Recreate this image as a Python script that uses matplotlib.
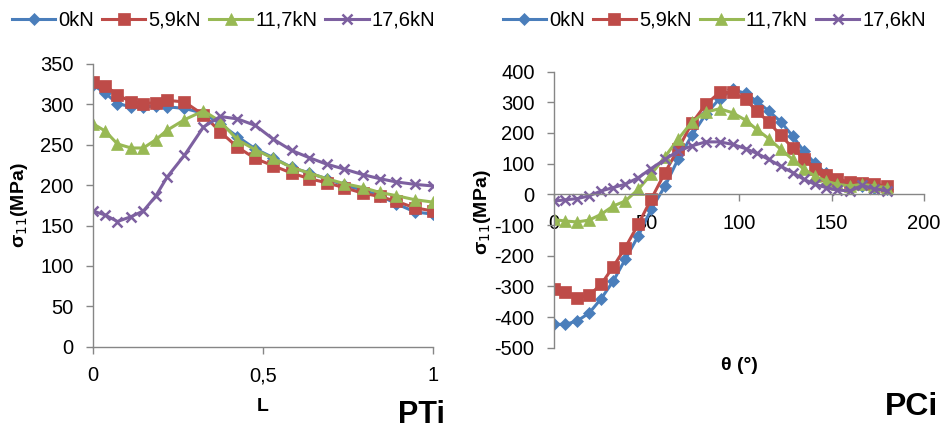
import matplotlib
matplotlib.use("Agg")
import matplotlib.pyplot as plt

plt.rcParams['font.family'] = ['Liberation Sans', 'DejaVu Sans']
plt.rcParams['axes.unicode_minus'] = False

series_labels = ["0kN", "5,9kN", "11,7kN", "17,6kN"]
colors = ["#4A7EBB", "#BE4B48", "#98B954", "#7D60A0"]
markers = ["D", "s", "^", "x"]
msizes = [6, 8, 8.5, 7.5]

# ---- PTi panel ----
L_x = [0.0, 0.036, 0.072, 0.112, 0.148, 0.184, 0.218, 0.269, 0.325, 0.374,
       0.425, 0.477, 0.530, 0.584, 0.636, 0.687, 0.738, 0.794, 0.843, 0.892,
       0.946, 1.0]
pti_0 = [324, 314, 301, 297, 297, 298, 297, 295, 289, 276, 260, 245, 234, 222,
         215, 208, 200, 194, 187, 177, 167, 164]
pti_59 = [328, 323, 312, 303, 301, 302, 305, 303, 287, 266, 247, 233, 224, 215,
          208, 203, 197, 190, 186, 180, 172, 168]
pti_117 = [276, 267, 251, 246, 246, 256, 268, 281, 292, 279, 256, 244, 233, 222,
           215, 208, 202, 197, 191, 187, 182, 179]
pti_176 = [168, 163, 155, 161, 168, 186, 210, 237, 272, 285, 282, 274, 257, 243,
           234, 226, 220, 213, 208, 204, 201, 199]
pti_series = [pti_0, pti_59, pti_117, pti_176]
pti_xticks = [0, 0.5, 1]
pti_xticklabels = ["0", "0,5", "1"]
pti_yticks = [0, 50, 100, 150, 200, 250, 300, 350]

# ---- PCi panel ----
theta = [0, 6, 12.5, 19, 25.5, 32, 38.5, 45.5, 52.5, 60, 67, 74.5, 82, 89.5,
         96.5, 103.5, 109.5, 116, 122.5, 129, 135, 141, 147, 153, 160, 166.5,
         173, 180]
pci_0 = [-424, -424, -413, -387, -340, -283, -212, -136, -49, 27, 114, 192, 261,
         312, 342, 329, 304, 272, 237, 190, 141, 101, 68, 47, 33, 27, 22, 16]
pci_59 = [-308, -318, -337, -329, -293, -236, -174, -98, -16, 71, 147, 232, 293,
          332, 332, 310, 272, 236, 192, 152, 116, 84, 62, 49, 40, 38, 33, 27]
pci_117 = [-82, -87, -90, -84, -65, -38, -22, 16, 65, 123, 179, 236, 268, 279,
           266, 242, 212, 182, 147, 114, 82, 60, 43, 33, 27, 33, 27, 22]
pci_176 = [-22, -18, -14, -5, 11, 22, 33, 54, 84, 114, 141, 158, 171, 171, 163,
           149, 134, 114, 92, 71, 49, 33, 22, 14, 11, 29, 18, 11]
pci_series = [pci_0, pci_59, pci_117, pci_176]
pci_xticks = [0, 50, 100, 150, 200]
pci_yticks = [-500, -400, -300, -200, -100, 0, 100, 200, 300, 400]

fig = plt.figure(figsize=(9.43, 4.30), dpi=100)
spine_col = "#868686"
fs = 14.5
lfs = 14

def style(ax):
    for s in ["top", "right"]:
        ax.spines[s].set_visible(False)
    for s in ["left", "bottom"]:
        ax.spines[s].set_color(spine_col)
        ax.spines[s].set_linewidth(1.0)
    ax.tick_params(colors=spine_col, labelcolor="black", labelsize=fs,
                   length=5, width=1.0, direction="out")

def draw(ax, xs, series):
    for ys, c, m, ms, lab in zip(series, colors, markers, msizes, series_labels):
        ax.plot(xs, ys, color=c, lw=2.2, marker=m, ms=ms,
                mew=1.8 if m == "x" else 0.5, mec=c, mfc=c, label=lab)

def legend(ax, x0):
    ax.legend(loc="center left", bbox_to_anchor=(x0, 0.953),
              bbox_transform=fig.transFigure, ncol=4, frameon=False,
              fontsize=fs, handlelength=2.15, handletextpad=0.15,
              columnspacing=0.4, borderaxespad=0, borderpad=0)

# Left panel
ax1 = fig.add_axes([0.0986, 0.1937, 0.3606, 0.6575])
style(ax1)
draw(ax1, L_x, pti_series)
ax1.set_xlim(0, 1)
ax1.set_ylim(0, 350)
ax1.set_xticks(pti_xticks)
ax1.set_xticklabels(pti_xticklabels)
ax1.set_yticks(pti_yticks)
ax1.tick_params(axis="y", pad=9)
ax1.tick_params(axis="x", pad=9)
ax1.set_xlabel("L", fontsize=lfs, fontweight="bold")
ax1.xaxis.set_label_coords(0.5, -0.18)
ax1.set_ylabel("σ$_{11}$(MPa)", fontsize=lfs, fontweight="bold")
ax1.yaxis.set_label_coords(-0.185, 0.5)
fig.text(0.472, 0.016, "PTi", fontsize=22, fontweight="bold", ha="right", va="baseline")
legend(ax1, 0.0127)

# Right panel
ax2 = fig.add_axes([0.5875, 0.1914, 0.3924, 0.642])
style(ax2)
ax2.spines["bottom"].set_position(("data", 0))
draw(ax2, theta, pci_series)
ax2.set_xlim(0, 200)
ax2.set_ylim(-500, 400)
ax2.set_xticks(pci_xticks)
ax2.set_yticks(pci_yticks)
ax2.tick_params(axis="y", pad=9)
ax2.tick_params(axis="x", pad=9)
ax2.set_xlabel("θ (°)", fontsize=lfs, fontweight="bold")
ax2.xaxis.set_label_coords(0.5, -0.035)
ax2.set_ylabel("σ$_{11}$(MPa)", fontsize=lfs, fontweight="bold")
ax2.yaxis.set_label_coords(-0.165, 0.49)
fig.text(0.995, 0.035, "PCi", fontsize=23, fontweight="bold", ha="right", va="baseline")
legend(ax2, 0.533)

fig.savefig("out.png", dpi=100)
